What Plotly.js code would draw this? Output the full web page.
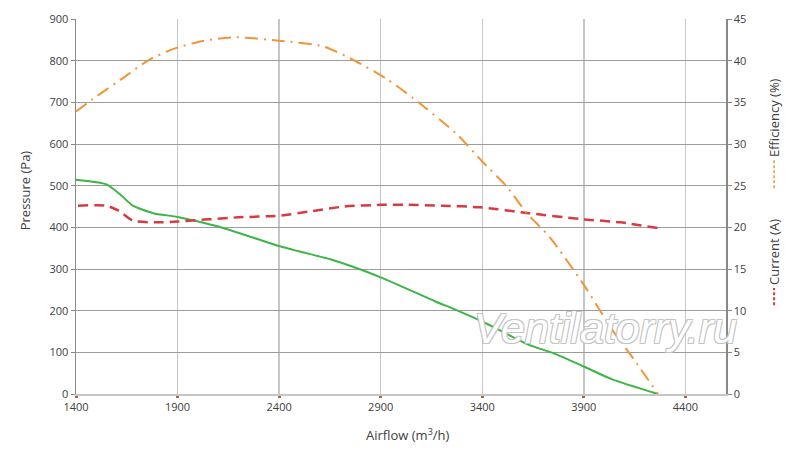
<!DOCTYPE html>
<html>
<head>
<meta charset="utf-8">
<script src="https://cdn.plot.ly/plotly-3.0.1.min.js"></script>
<style>
  html, body { margin: 0; padding: 0; background: #fff; }
  #myDiv { width: 800px; height: 455px; }
</style>
</head>
<body>
<div id="myDiv"></div>
<script>
// airflow (m3/h) and pressure (Pa)
var pressureFlow = [1400, 1550, 1615, 1680, 1780, 1900, 2100, 2400, 2500, 2660, 2900, 3170, 3270, 3400, 3630, 3750, 3900, 4040, 4265];
var pressure     = [514, 503, 480, 452, 434, 425, 402, 355, 342, 322, 280, 222, 202, 174, 118, 98, 66, 35, 0];

// current (A)
var currentFlow = [1410, 1550, 1610, 1680, 1800, 1900, 2200, 2400, 2550, 2720, 2900, 3030, 3200, 3390, 3630, 3880, 4080, 4265];
var current     = [22.6, 22.6, 22.0, 20.8, 20.6, 20.7, 21.2, 21.4, 21.9, 22.5, 22.7, 22.7, 22.6, 22.4, 21.7, 21.0, 20.6, 19.9];

// efficiency (%)
var effFlow    = [1400, 1500, 1630, 1760, 1890, 2030, 2190, 2400, 2620, 2780, 2930, 3060, 3270, 3400, 3520, 3620, 3733, 3900, 4040, 4160, 4265];
var efficiency = [33.9, 35.7, 37.9, 40.1, 41.5, 42.4, 42.8, 42.4, 41.7, 39.9, 37.8, 35.5, 31.3, 27.9, 24.9, 21.7, 18.8, 13.1, 7.7, 3.7, 0];

var font = 'Open Sans, Liberation Sans, sans-serif';
var orange = '#f0953a', red = '#d93a3f', green = '#3db546';

var tracePressure = {
  x: pressureFlow, y: pressure,
  type: 'scatter', mode: 'lines',
  line: {color: green, width: 2, shape: 'spline', smoothing: 0.6},
  yaxis: 'y', name: 'Pressure (Pa)'
};

var traceCurrent = {
  x: currentFlow, y: current,
  type: 'scatter', mode: 'lines',
  line: {color: red, width: 2.5, dash: '10px,6px', shape: 'spline', smoothing: 0.6},
  yaxis: 'y2', name: 'Current (A)'
};

var traceEff = {
  x: effFlow, y: efficiency,
  type: 'scatter', mode: 'lines',
  line: {color: orange, width: 2, dash: '13px,6px,2px,6px', shape: 'spline', smoothing: 0.6},
  yaxis: 'y2', name: 'Efficiency (%)'
};

function title(text, x, y, angle) {
  return {text: text, xref: 'paper', yref: 'paper', x: x, y: y, textangle: angle || 0,
          xanchor: 'center', yanchor: 'middle', showarrow: false,
          font: {size: 13, color: '#404040'}};
}

var layout = {
  width: 800, height: 455,
  margin: {l: 76, r: 74, t: 19, b: 61},
  paper_bgcolor: '#fff', plot_bgcolor: '#fff',
  showlegend: false,
  font: {family: font, size: 11, color: '#404040'},
  xaxis: {
    range: [1400, 4600], tick0: 1400, dtick: 500,
    showgrid: true, gridcolor: '#c6c6c6', gridwidth: 1.5,
    showline: true, linecolor: '#c6c6c6', linewidth: 2,
    ticks: 'outside', ticklen: 2, tickwidth: 3, tickcolor: '#b0603c',
    zeroline: false, fixedrange: true
  },
  yaxis: {
    range: [0, 900], dtick: 100,
    showgrid: true, gridcolor: '#9c9c9c', gridwidth: 1,
    showline: true, linecolor: '#888', linewidth: 1.5,
    ticks: 'outside', ticklen: 4, tickcolor: '#888',
    zeroline: false, fixedrange: true
  },
  yaxis2: {
    range: [0, 45], dtick: 5,
    overlaying: 'y', side: 'right',
    showgrid: false,
    showline: true, linecolor: '#888', linewidth: 1.5,
    ticks: 'outside', ticklen: 4, tickcolor: '#888',
    zeroline: false, fixedrange: true
  },
  shapes: [
    // little line samples in front of the right-hand titles
    {type: 'line', xref: 'paper', yref: 'paper', x0: 1.074, x1: 1.074, y0: 0.549, y1: 0.624,
     line: {color: orange, width: 1.5, dash: '3px,2px'}},
    {type: 'line', xref: 'paper', yref: 'paper', x0: 1.074, x1: 1.074, y0: 0.237, y1: 0.283,
     line: {color: red, width: 2, dash: '3px,2px'}}
  ],
  annotations: [
    title('Pressure (Pa)', -0.078, 0.544, -90),
    title('Airflow (m<sup>3</sup>/h)', 0.511, -0.107, 0),
    title('Efficiency (%)', 1.074, 0.736, -90),
    title('Current (A)', 1.074, 0.379, -90),
    {text: 'Ventilatorry.ru', xref: 'paper', yref: 'paper', x: 0.814, y: 0.176,
     xanchor: 'center', yanchor: 'middle', showarrow: false,
     font: {family: 'Liberation Sans, Arial, sans-serif', size: 43, style: 'italic', color: '#ffffff',
            shadow: '-1px -1px 0 #c4c4c4, 1px -1px 0 #c4c4c4, -1px 1px 0 #c4c4c4, 1px 1px 0 #c4c4c4'}}
  ]
};

Plotly.newPlot('myDiv', [tracePressure, traceCurrent, traceEff], layout, {displayModeBar: false, staticPlot: true});
</script>
</body>
</html>
